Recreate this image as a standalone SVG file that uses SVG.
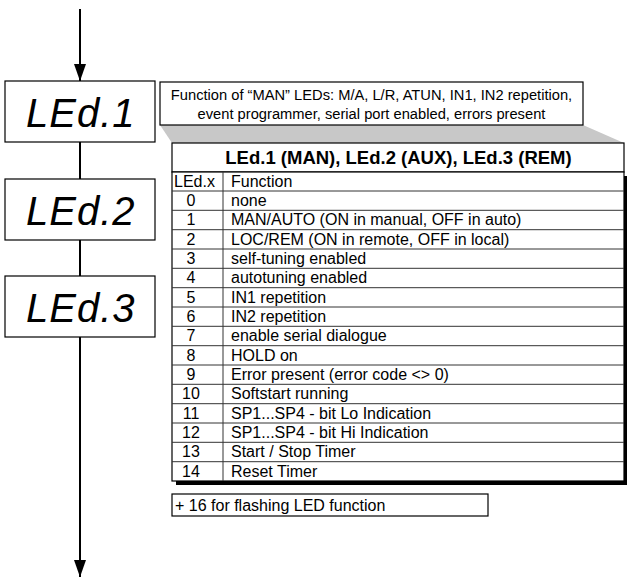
<svg xmlns="http://www.w3.org/2000/svg" width="627" height="578" viewBox="0 0 627 578">
<defs>
<marker id="ah" markerWidth="17" markerHeight="12" refX="17" refY="6" orient="auto" markerUnits="userSpaceOnUse" viewBox="0 0 17 12">
<path d="M0,0 L17,6 L0,12 Z" fill="#000"/>
</marker>
<style>
.conn{stroke:#000;stroke-width:2;fill:none}
.box{fill:#fff;stroke:#000;stroke-width:1.2}
.seg{font-family:"Liberation Sans",Arial,sans-serif;font-size:40px;font-style:italic;letter-spacing:1px;fill:#000}
.t{font-family:"Liberation Sans",Arial,sans-serif;font-size:16px;fill:#000}
.d{font-family:"Liberation Sans",Arial,sans-serif;font-size:14.7px;fill:#000}
.title{font-family:"Liberation Sans",Arial,sans-serif;font-size:18.5px;font-weight:bold;fill:#000}
.rl{stroke:#333;stroke-width:1}
</style>
</defs>
<rect width="627" height="578" fill="#fff"/>
<g id="connectors">
<line class="conn" x1="80" y1="9" x2="80" y2="81" marker-end="url(#ah)"/>
<line class="conn" x1="80" y1="142" x2="80" y2="179"/>
<line class="conn" x1="80" y1="240" x2="80" y2="276"/>
<line class="conn" x1="80" y1="337" x2="80" y2="577" marker-end="url(#ah)"/>
</g>
<g id="led1">
<rect class="box" x="5" y="81" width="150" height="61"/>
<text class="seg" x="26" y="127">LEd.1</text>
</g>
<g id="led2">
<rect class="box" x="5" y="179" width="150" height="61"/>
<text class="seg" x="26" y="225">LEd.2</text>
</g>
<g id="led3">
<rect class="box" x="5" y="276" width="150" height="61"/>
<text class="seg" x="26" y="322">LEd.3</text>
</g>
<g id="description">
<polygon points="160,125 583,125 624,143 172,143" fill="#c8c8c8"/>
<rect class="box" x="160" y="82" width="423" height="43"/>
<text class="d" x="371.5" y="100" text-anchor="middle">Function of “MAN” LEDs: M/A, L/R, ATUN, IN1, IN2 repetition,</text>
<text class="d" x="371.5" y="119" text-anchor="middle">event programmer, serial port enabled, errors present</text>
</g>
<g id="table">
<rect x="176" y="176" width="451" height="309" fill="#000"/>
<rect class="box" x="172" y="143" width="452" height="29"/>
<text class="title" x="398.5" y="164" text-anchor="middle">LEd.1 (MAN), LEd.2 (AUX), LEd.3 (REM)</text>
<rect class="box" x="172" y="172" width="452" height="309"/>
<line class="rl" x1="223" y1="172" x2="223" y2="481"/>
<g class="rl">
<line x1="172" y1="191" x2="624" y2="191"/>
<line x1="172" y1="210.3" x2="624" y2="210.3"/>
<line x1="172" y1="229.7" x2="624" y2="229.7"/>
<line x1="172" y1="249" x2="624" y2="249"/>
<line x1="172" y1="268.3" x2="624" y2="268.3"/>
<line x1="172" y1="287.7" x2="624" y2="287.7"/>
<line x1="172" y1="307" x2="624" y2="307"/>
<line x1="172" y1="326.3" x2="624" y2="326.3"/>
<line x1="172" y1="345.7" x2="624" y2="345.7"/>
<line x1="172" y1="365" x2="624" y2="365"/>
<line x1="172" y1="384.3" x2="624" y2="384.3"/>
<line x1="172" y1="403.7" x2="624" y2="403.7"/>
<line x1="172" y1="423" x2="624" y2="423"/>
<line x1="172" y1="442.3" x2="624" y2="442.3"/>
<line x1="172" y1="461.7" x2="624" y2="461.7"/>
</g>
<text class="t" x="174" y="187">LEd.x</text>
<text class="t" x="231" y="187">Function</text>
<g class="t" text-anchor="middle">
<text x="191" y="206">0</text>
<text x="191" y="225.3">1</text>
<text x="191" y="244.7">2</text>
<text x="191" y="264">3</text>
<text x="191" y="283.3">4</text>
<text x="191" y="302.7">5</text>
<text x="191" y="322">6</text>
<text x="191" y="341.3">7</text>
<text x="191" y="360.7">8</text>
<text x="191" y="380">9</text>
<text x="191" y="399.3">10</text>
<text x="191" y="418.7">11</text>
<text x="191" y="438">12</text>
<text x="191" y="457.3">13</text>
<text x="191" y="476.7">14</text>
</g>
<g class="t">
<text x="231" y="206">none</text>
<text x="231" y="225.3">MAN/AUTO (ON in manual, OFF in auto)</text>
<text x="231" y="244.7">LOC/REM (ON in remote, OFF in local)</text>
<text x="231" y="264">self-tuning enabled</text>
<text x="231" y="283.3">autotuning enabled</text>
<text x="231" y="302.7">IN1 repetition</text>
<text x="231" y="322">IN2 repetition</text>
<text x="231" y="341.3">enable serial dialogue</text>
<text x="231" y="360.7">HOLD on</text>
<text x="231" y="380">Error present (error code &lt;&gt; 0)</text>
<text x="231" y="399.3">Softstart running</text>
<text x="231" y="418.7">SP1...SP4 - bit Lo Indication</text>
<text x="231" y="438">SP1...SP4 - bit Hi Indication</text>
<text x="231" y="457.3">Start / Stop Timer</text>
<text x="231" y="476.7">Reset Timer</text>
</g>
</g>
<g id="note">
<rect class="box" x="172" y="494" width="316" height="22"/>
<text class="t" x="175" y="511">+ 16 for flashing LED function</text>
</g>
</svg>
